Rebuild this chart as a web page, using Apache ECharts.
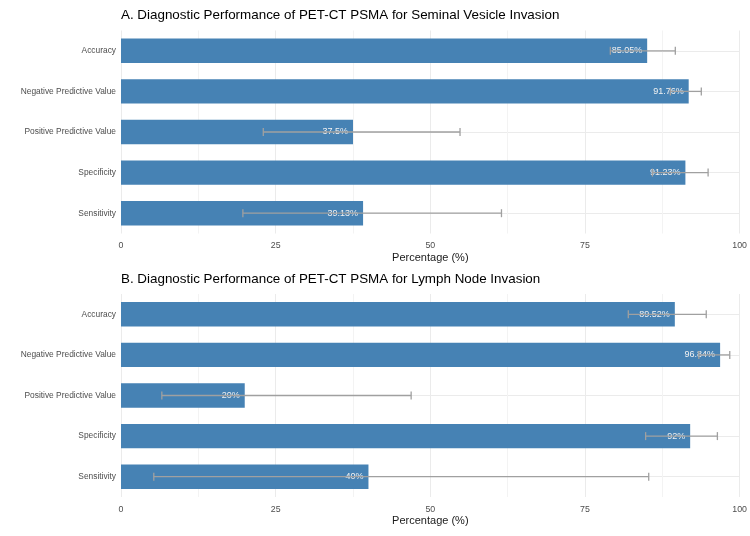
<!DOCTYPE html>
<html>
<head>
<meta charset="utf-8">
<script src="https://cdn.jsdelivr.net/npm/echarts@6/dist/echarts.min.js"></script>
<style>
  html, body { margin: 0; padding: 0; background: #fff; }
  #main { width: 750px; height: 536px; }
</style>
</head>
<body>
<div id="main"></div>
<script>
// categories listed bottom -> top, as the y axis draws them
var categories = ['Sensitivity', 'Specificity', 'Positive Predictive Value', 'Negative Predictive Value', 'Accuracy'];

// A. seminal vesicle invasion
var svValues = [39.13, 91.23, 37.5, 91.76, 85.05];
var svLower = [19.7, 85.9, 23.0, 88.8, 79.1];
var svUpper = [61.5, 94.9, 54.8, 93.8, 89.6];

// B. lymph node invasion
var lnValues = [40, 92, 20, 96.84, 89.52];
var lnLower = [5.3, 84.8, 6.6, 93.4, 82.0];
var lnUpper = [85.3, 96.4, 46.9, 98.4, 94.6];

var titles = [
  'A. Diagnostic Performance of PET-CT PSMA for Seminal Vesicle Invasion',
  'B. Diagnostic Performance of PET-CT PSMA for Lymph Node Invasion'
];

var FONT = '"Liberation Sans", Arial, sans-serif';
var chart = echarts.init(document.getElementById('main'), null, { renderer: 'canvas' });

function errData(lo, hi) {
  return categories.map(function (c, i) { return [i, lo[i], hi[i]]; });
}

function renderErr(params, api) {
  var y = api.value(0);
  var a = api.coord([api.value(1), y]);
  var b = api.coord([api.value(2), y]);
  var cap = 4;
  var st = { stroke: '#a0a0a0', lineWidth: 1.3 };
  return {
    type: 'group',
    children: [
      { type: 'line', shape: { x1: a[0], y1: a[1], x2: b[0], y2: b[1] }, style: st },
      { type: 'line', shape: { x1: a[0], y1: a[1] - cap, x2: a[0], y2: a[1] + cap }, style: st },
      { type: 'line', shape: { x1: b[0], y1: b[1] - cap, x2: b[0], y2: b[1] + cap }, style: st }
    ]
  };
}

function xAxisFor(idx, gap, margin) {
  return {
    type: 'value', gridIndex: idx, min: 0, max: 100, interval: 25,
    name: 'Percentage (%)', nameLocation: 'middle', nameGap: gap,
    nameTextStyle: { color: '#1a1a1a', fontSize: 11, fontFamily: FONT },
    axisLine: { show: false }, axisTick: { show: false },
    axisLabel: { color: '#4d4d4d', fontSize: 8.8, fontFamily: FONT, margin: margin },
    splitLine: { show: true, lineStyle: { color: '#ebebeb', width: 1 } },
    minorTick: { show: false, splitNumber: 2 },
    minorSplitLine: { show: true, lineStyle: { color: '#f3f3f3', width: 1 } }
  };
}

function yAxisFor(idx) {
  return {
    type: 'category', gridIndex: idx, data: categories,
    axisLine: { show: false }, axisTick: { show: false, alignWithLabel: true },
    axisLabel: { color: '#4d4d4d', fontSize: 8.4, fontFamily: FONT, margin: 5 },
    splitLine: { show: true, alignWithLabel: true, lineStyle: { color: '#ebebeb', width: 1 } }
  };
}

function barSeries(idx, vals) {
  return {
    type: 'bar', xAxisIndex: idx, yAxisIndex: idx, data: vals,
    barWidth: '60%',
    itemStyle: { color: '#4682b4' },
    label: {
      show: true, position: 'insideRight', distance: 5,
      color: '#f2f2f2', fontSize: 9, fontFamily: FONT,
      formatter: function (p) { return p.value + '%'; }
    },
    z: 2
  };
}

function errSeries(idx, lo, hi) {
  return {
    type: 'custom', xAxisIndex: idx, yAxisIndex: idx,
    renderItem: renderErr, data: errData(lo, hi),
    encode: { y: 0, x: [1, 2] }, z: 5, silent: true
  };
}

chart.setOption({
  animation: false,
  backgroundColor: '#ffffff',
  title: [
    { text: titles[0], left: 116, top: 4, textStyle: { color: '#000', fontSize: 13.4, fontWeight: 'normal', fontFamily: FONT } },
    { text: titles[1], left: 116, top: 268, textStyle: { color: '#000', fontSize: 13.4, fontWeight: 'normal', fontFamily: FONT } }
  ],
  grid: [
    { left: 121, right: 9, top: 30.5, height: 203 },
    { left: 121, right: 9, top: 294, height: 203 }
  ],
  xAxis: [xAxisFor(0, 19, 8), xAxisFor(1, 18, 8)],
  yAxis: [yAxisFor(0), yAxisFor(1)],
  series: [
    barSeries(0, svValues),
    errSeries(0, svLower, svUpper),
    barSeries(1, lnValues),
    errSeries(1, lnLower, lnUpper)
  ]
});
</script>
</body>
</html>
